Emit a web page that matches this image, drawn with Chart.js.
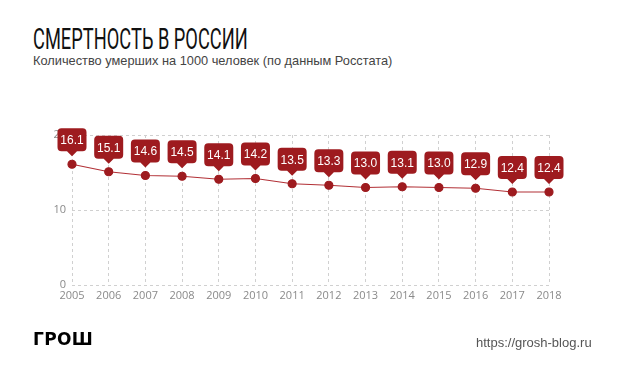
<!DOCTYPE html>
<html>
<head>
<meta charset="utf-8">
<script src="https://cdn.jsdelivr.net/npm/chart.js@4"></script>
<style>
  html, body { margin: 0; padding: 0; background: #fff; }
  #wrap { position: relative; width: 620px; height: 387px; overflow: hidden; }
  #chart { position: absolute; left: 0; top: 0; }
  .title { position: absolute; left: 33px; top: 22px; font-family: Roboto, "Liberation Sans", sans-serif; font-size: 29px; color: #111; transform: scaleX(0.63); transform-origin: left top; white-space: nowrap; }
  .sub { position: absolute; left: 33px; top: 53px; font-family: "Liberation Sans", Arial, sans-serif; font-size: 12.8px; color: #444; white-space: nowrap; }
  .logo { position: absolute; left: 33px; top: 329px; font-family: "DejaVu Sans", sans-serif; font-weight: bold; font-size: 17px; color: #000; letter-spacing: 0.3px; }
  .url { position: absolute; left: 476px; top: 335px; font-family: "Liberation Sans", Arial, sans-serif; font-size: 13px; color: #555; }
</style>
</head>
<body>
<div id="wrap">
  <div class="title">СМЕРТНОСТЬ В РОССИИ</div>
  <div class="sub">Количество умерших на 1000 человек (по данным Росстата)</div>
  <canvas id="chart" width="620" height="387"></canvas>
  <div class="logo">ГРОШ</div>
  <div class="url">https://grosh-blog.ru</div>
</div>
<script>
const years = ["2005","2006","2007","2008","2009","2010","2011","2012","2013","2014","2015","2016","2017","2018"];
const deaths = [16.1, 15.1, 14.6, 14.5, 14.1, 14.2, 13.5, 13.3, 13.0, 13.1, 13.0, 12.9, 12.4, 12.4];
const yTicks = [0, 10, 20];

const red = "#9e1b1f";

// callout boxes above each point
const callouts = {
    id: "callouts",
    afterDatasetsDraw(chart){
        const ctx = chart.ctx;
        const meta = chart.getDatasetMeta(0);
        ctx.save();
        ctx.font = "12px 'Liberation Sans', Arial, sans-serif";
        ctx.textAlign = "center";
        ctx.textBaseline = "middle";
        meta.data.forEach(function(pt, i){
            const txt = deaths[i].toFixed(1);
            const w = 29, h = 23, r = 4;
            const tip = pt.y - 8;
            const bottom = tip - 5;
            const top = bottom - h;
            const left = pt.x - w / 2;
            ctx.fillStyle = red;
            ctx.beginPath();
            ctx.moveTo(left + r, top);
            ctx.lineTo(left + w - r, top);
            ctx.quadraticCurveTo(left + w, top, left + w, top + r);
            ctx.lineTo(left + w, bottom - r);
            ctx.quadraticCurveTo(left + w, bottom, left + w - r, bottom);
            ctx.lineTo(pt.x + 5, bottom);
            ctx.lineTo(pt.x, tip);
            ctx.lineTo(pt.x - 5, bottom);
            ctx.lineTo(left + r, bottom);
            ctx.quadraticCurveTo(left, bottom, left, bottom - r);
            ctx.lineTo(left, top + r);
            ctx.quadraticCurveTo(left, top, left + r, top);
            ctx.closePath();
            ctx.fill();
            ctx.fillStyle = "#fff";
            ctx.fillText(txt, pt.x, top + h / 2 + 1);
        });
        ctx.restore();
    }
};

new Chart("chart", {
    type: "line",
    data: {
        labels: years,
        datasets: [{
            data: deaths,
            borderColor: "#b23036",
            borderWidth: 1.2,
            pointBackgroundColor: red,
            pointBorderColor: red,
            pointRadius: 4,
            fill: false,
            tension: 0
        }]
    },
    options: {
        responsive: false,
        animation: false,
        layout: {padding: {left: 32, right: 71, top: 135, bottom: 77}},
        plugins: {legend: {display: false}, tooltip: {enabled: false}},
        scales: {
            x: {
                offset: false,
                border: {display: false, dash: [3, 3]},
                grid: {color: "#d0d0d0", lineWidth: 1, drawTicks: false},
                ticks: {color: "#8a8a8a", font: {size: 11, family: "'Open Sans', sans-serif"}, padding: 4, maxRotation: 0},
                afterFit(s){ s.height = 25; }
            },
            y: {
                min: 0,
                max: 20,
                border: {display: false, dash: [3, 3]},
                grid: {color: "#d0d0d0", lineWidth: 1, drawTicks: false},
                afterBuildTicks(s){ s.ticks = yTicks.map(v => ({value: v})); },
                ticks: {color: "#8a8a8a", font: {size: 11, family: "'Open Sans', sans-serif"}, padding: 6},
                afterFit(s){ s.width = 40; }
            }
        }
    },
    plugins: [callouts]
});
</script>
</body>
</html>
